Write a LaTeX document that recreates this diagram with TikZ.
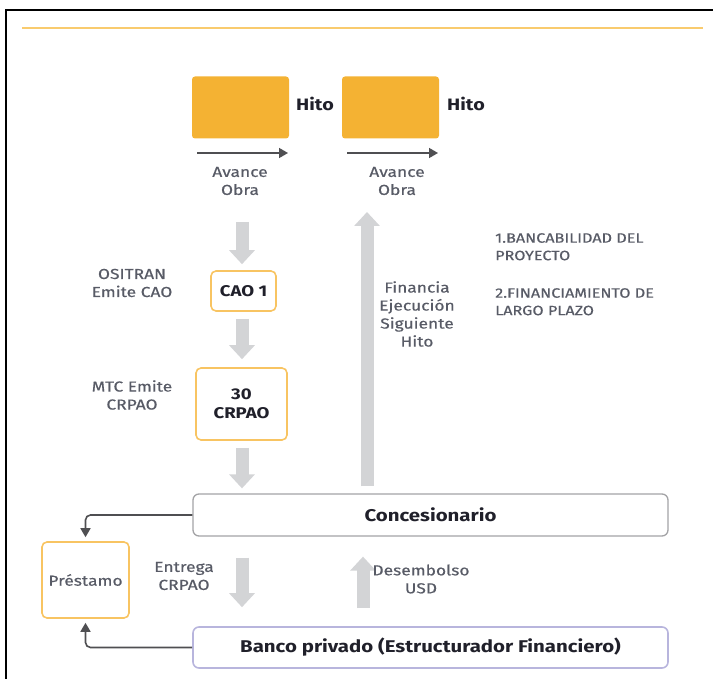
\documentclass[tikz,border=0pt]{standalone}
\usepackage{fontspec}
\setmainfont{Fira Sans}[FakeStretch=1.2]
\newfontfamily\labfont{Fira Sans}[FakeStretch=1.2,FakeBold=0.5]
\usetikzlibrary{arrows.meta}
\definecolor{hitofill}{HTML}{F4B233}
\definecolor{oborder}{HTML}{F8C462}
\definecolor{gline}{HTML}{F9CB6E}
\definecolor{bigarr}{HTML}{D3D4D6}
\definecolor{darkarr}{HTML}{4F4F52}
\definecolor{lbl}{HTML}{585B66}
\definecolor{bold}{HTML}{20202A}
\definecolor{concb}{HTML}{A3A3A6}
\definecolor{bancob}{HTML}{B8B5DD}
\tikzset{
  hitobox/.style={fill=hitofill, rounded corners=3pt, minimum width=97pt, minimum height=62pt, inner sep=0pt},
  obox/.style={draw=oborder, line width=1.6pt, rounded corners=5pt, inner sep=0pt, align=center, text=bold, font=\fontsize{15.5}{19}\selectfont\bfseries},
  lab/.style={align=center, text=lbl, font=\labfont\fontsize{14.5}{18}\selectfont, inner sep=0pt},
  hitolab/.style={text=bold, font=\fontsize{16.5}{19}\selectfont\bfseries, inner sep=0pt},
  bigarrow/.style={draw=bigarr, line width=13pt, -{Triangle[width=25pt,length=14pt]}},
  thinarrow/.style={draw=darkarr, line width=1.6pt, -{Triangle[width=10pt,length=9pt]}},
  conn/.style={draw=darkarr, line width=1.6pt, rounded corners=5pt, -{Triangle[width=10pt,length=9pt]}, shorten >=4pt},
  wide/.style={inner sep=0pt, minimum width=475pt, rounded corners=6pt, text=bold, font=\fontsize{17}{20}\selectfont\bfseries}
}
\begin{document}
\begin{tikzpicture}[x=1pt,y=-1pt]
\useasboundingbox (0,0) rectangle (713,679);
% frame
\draw[line width=2.2pt, draw=black] (713,10) -- (6,10) -- (6,679);
\draw[line width=2pt, draw=gline] (22,28) -- (703,28);
% hitos
\node[hitobox] (h1) at (240.5,107.5) {};
\node[hitobox] (h2) at (390.5,107.5) {};
\node[hitolab] (h1l) at (315,104) {Hito};
\node[hitolab] (h2l) at (466,104) {Hito};
\coordinate (a1s) at (197,153); \coordinate (a1e) at (288,153);
\coordinate (a2s) at (347,153); \coordinate (a2e) at (438,153);
\draw[thinarrow] (a1s) -- (a1e);
\draw[thinarrow] (a2s) -- (a2e);
\node[lab] (av1) at (240,181) {Avance\\Obra};
\node[lab] (av2) at (397,181) {Avance\\Obra};
% left column
\node[obox, minimum width=65pt, minimum height=40pt] (cao) at (243.5,291) {CAO 1};
\node[obox, minimum width=91pt, minimum height=72pt] (crpao) at (241.5,404) {30\\CRPAO};
\node[lab] (osi) at (132,283) {OSITRAN\\Emite CAO};
\node[lab] (mtc) at (132,395) {MTC Emite\\CRPAO};
\coordinate (g1s) at (242,222);
\draw[bigarrow] (g1s) -- ([yshift=6pt]cao.north -| g1s);
\draw[bigarrow] ([yshift=-7pt]cao.south -| g1s) -- ([yshift=8pt]crpao.north -| g1s);
% concesionario & banco
\node[wide, draw=concb, line width=1.3pt, minimum height=42pt] (conc) at (430.5,515) {Concesionario};
\node[wide, draw=bancob, line width=1.6pt, minimum height=41pt] (banco) at (430.5,647.5) {Banco privado (Estructurador Financiero)};
\draw[bigarrow] ([yshift=-7pt]crpao.south -| g1s) -- ([yshift=5pt]conc.north -| g1s);
\coordinate (up) at (367,212);
\draw[bigarrow] ([yshift=7pt]conc.north -| up) -- (up);
\node[lab] (fin) at (417,314) {Financia\\Ejecución\\Siguiente\\Hito};
\node[lab, align=left, anchor=north west, font=\labfont\fontsize{13.5}{17.5}\selectfont] (t1) at (495,233) {1.BANCABILIDAD DEL\\PROYECTO};
\node[lab, align=left, anchor=north west, font=\labfont\fontsize{13.5}{17.5}\selectfont] (t2) at (495,288) {2.FINANCIAMIENTO DE\\LARGO PLAZO};
% prestamo
\node[draw=oborder, line width=1.6pt, rounded corners=5pt, minimum width=87pt, minimum height=76pt, inner sep=0pt, text=lbl, font=\labfont\fontsize{14.5}{18}\selectfont] (pre) at (85.5,580) {Préstamo};
\draw[conn] (conc.west) -| (pre.north);
\draw[conn] (banco.west) -| (pre.south);
% middle arrows
\draw[bigarrow] ([yshift=-21pt]conc.south -| g1s) -- ([yshift=19pt]banco.north -| g1s);
\coordinate (dx) at (363,0);
\draw[bigarrow] ([yshift=18pt]banco.north -| dx) -- ([yshift=-20pt]conc.south -| dx);
\node[lab] (ent) at (184,576) {Entrega\\CRPAO};
\node[lab] (des) at (421,579) {Desembolso\\USD};
\end{tikzpicture}
\end{document}
